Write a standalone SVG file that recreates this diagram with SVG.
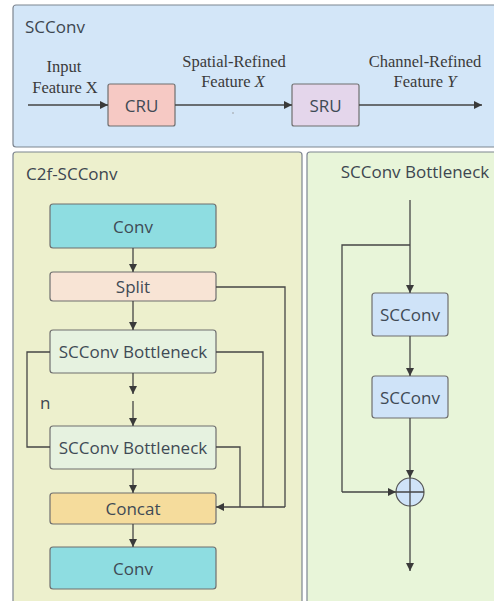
<svg xmlns="http://www.w3.org/2000/svg" width="494" height="601" viewBox="0 0 494 601">
  <defs>
    <marker id="arrow" viewBox="0 0 10 10" refX="10" refY="5" markerWidth="8" markerHeight="8" markerUnits="userSpaceOnUse" orient="auto">
      <path d="M0,0 L10,5 L0,10 z" fill="#3a3a3a"/>
    </marker>
    <style>
      .panel { stroke: #7d8590; stroke-width: 1.2; }
      .box { stroke: #6f6f6f; stroke-width: 1.2; }
      .lbl { font-family: "Open Sans", "Noto Sans", sans-serif; font-size: 17px; fill: #3f4a55; text-anchor: middle; dominant-baseline: central; }
      .title { font-family: "Open Sans", "Noto Sans", sans-serif; font-size: 17px; fill: #3d4650; }
      .serif { font-family: "Liberation Serif", "Times New Roman", serif; font-size: 16.5px; fill: #3b3b3b; text-anchor: middle; }
      .ln { fill: none; stroke: #454545; stroke-width: 1.3; }
      .arr { fill: none; stroke: #454545; stroke-width: 1.3; marker-end: url(#arrow); }
    </style>
  </defs>
  <rect width="494" height="601" fill="#ffffff"/>

  <!-- SCConv panel -->
  <g id="panel-scconv">
    <rect class="panel" x="13" y="5" width="490" height="142" rx="3" fill="#d3e6f8"/>
    <text class="title" x="25" y="33">SCConv</text>
    <text class="serif" x="64" y="72">Input</text>
    <text class="serif" x="65" y="93">Feature X</text>
    <text class="serif" x="234" y="67">Spatial-Refined</text>
    <text class="serif" x="233" y="87">Feature <tspan font-style="italic">X</tspan></text>
    <text class="serif" x="425" y="67">Channel-Refined</text>
    <text class="serif" x="425" y="87">Feature <tspan font-style="italic">Y</tspan></text>
    <circle cx="233" cy="113" r="1" fill="#b0b8c2"/>
  </g>
  <g id="node-cru">
    <rect class="box" x="108" y="84" width="67" height="42" rx="2" fill="#f6c9c4"/>
    <text class="lbl" x="141.5" y="105">CRU</text>
  </g>
  <g id="node-sru">
    <rect class="box" x="292" y="84" width="67" height="42" rx="2" fill="#e4d6eb"/>
    <text class="lbl" x="325.5" y="105">SRU</text>
  </g>

  <!-- C2f-SCConv panel -->
  <g id="panel-c2f">
    <rect class="panel" x="13" y="152" width="289" height="452" rx="3" fill="#edf0cd"/>
    <text class="title" x="26" y="180">C2f-SCConv</text>
    <text class="title" x="40" y="409">n</text>
  </g>
  <g id="node-conv-in">
    <rect class="box" x="50" y="204" width="166" height="44" rx="3" fill="#8edde1"/>
    <text class="lbl" x="133" y="226">Conv</text>
  </g>
  <g id="node-split">
    <rect class="box" x="50" y="272" width="166" height="29" rx="3" fill="#f8e4d5"/>
    <text class="lbl" x="133" y="286.5">Split</text>
  </g>
  <g id="node-bottleneck-1">
    <rect class="box" x="50" y="330" width="166" height="43" rx="3" fill="#e6f2e0"/>
    <text class="lbl" x="133" y="351.5">SCConv Bottleneck</text>
  </g>
  <g id="node-bottleneck-n">
    <rect class="box" x="50" y="426" width="166" height="43" rx="3" fill="#e6f2e0"/>
    <text class="lbl" x="133" y="447.5">SCConv Bottleneck</text>
  </g>
  <g id="node-concat">
    <rect class="box" x="50" y="493" width="166" height="31" rx="3" fill="#f5dc9c"/>
    <text class="lbl" x="133" y="508.5">Concat</text>
  </g>
  <g id="node-conv-out">
    <rect class="box" x="50" y="547" width="166" height="42" rx="3" fill="#8edde1"/>
    <text class="lbl" x="133" y="568">Conv</text>
  </g>

  <!-- SCConv Bottleneck panel -->
  <g id="panel-bottleneck">
    <rect class="panel" x="307" y="152" width="196" height="452" rx="3" fill="#e8f5d9"/>
    <text class="title" x="415" y="178" text-anchor="middle">SCConv Bottleneck</text>
  </g>
  <g id="node-scconv-1">
    <rect class="box" x="372" y="293" width="76" height="43" rx="3" fill="#cfe3f8"/>
    <text class="lbl" x="410" y="314.5">SCConv</text>
  </g>
  <g id="node-scconv-2">
    <rect class="box" x="372" y="376" width="76" height="42" rx="3" fill="#cfe3f8"/>
    <text class="lbl" x="410" y="397">SCConv</text>
  </g>
  <g id="node-add">
    <circle cx="410" cy="492" r="14" fill="#cfe3f8" stroke="#555" stroke-width="1.2"/>
    <path class="ln" d="M396,492 H424 M410,478 V506"/>
  </g>

  <!-- connectors -->
  <g id="connectors">
    <!-- SCConv chain -->
    <path class="arr" d="M28,105 H108"/>
    <path class="arr" d="M175,105 H292"/>
    <path class="arr" d="M359,105 H482"/>

    <!-- C2f chain -->
    <path class="arr" d="M133,248 V272"/>
    <path class="arr" d="M133,301 V330"/>
    <path class="arr" d="M133,373 V394"/>
    <path class="arr" d="M133,401 V426"/>
    <path class="arr" d="M133,469 V493"/>
    <path class="arr" d="M133,524 V547"/>
    <path class="ln" d="M50,352 H27 V447 H50"/>
    <path class="ln" d="M216,287 H285 V507"/>
    <path class="ln" d="M216,352 H263 V507"/>
    <path class="ln" d="M216,447 H240 V507"/>
    <path class="arr" d="M285,507 H216"/>

    <!-- Bottleneck chain -->
    <path class="arr" d="M410,200 V293"/>
    <path class="ln" d="M410,245 H342 V492"/>
    <path class="arr" d="M342,492 H396"/>
    <path class="arr" d="M410,336 V376"/>
    <path class="arr" d="M410,418 V478"/>
    <path class="arr" d="M410,506 V571"/>
  </g>
</svg>
